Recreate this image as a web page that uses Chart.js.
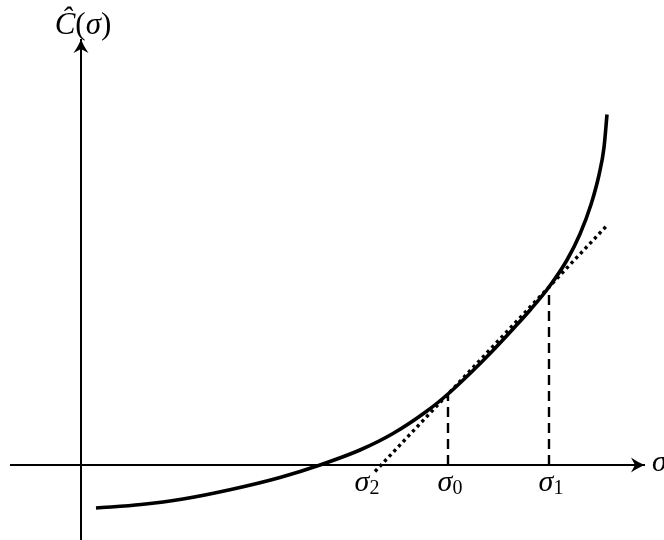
<!DOCTYPE html>
<html>
<head>
<meta charset="utf-8">
<script src="https://cdn.jsdelivr.net/npm/chart.js@4.4.1/dist/chart.umd.min.js"></script>
<style>
  html, body { margin: 0; padding: 0; background: #fff; }
  canvas { display: block; }
</style>
</head>
<body>
<canvas id="myChart" width="664" height="540"></canvas>
<script>
// Cost curve C(sigma), sampled along its length
const curveX = [0.30, 1.20, 2.04, 3.00, 3.98, 4.78, 5.58, 6.24, 6.92, 7.34, 7.78, 8.20, 8.64, 9.00, 9.36, 9.72, 9.98, 10.20, 10.36, 10.46, 10.52];
const curveY = [-0.86, -0.79, -0.68, -0.49, -0.25, 0.00, 0.30, 0.63, 1.08, 1.42, 1.83, 2.25, 2.72, 3.12, 3.56, 4.10, 4.62, 5.21, 5.80, 6.35, 7.01];

// marked points on the sigma axis: sigma_2, sigma_0, sigma_1
const sigmaX = [6.00, 7.34, 9.36];
const sigmaSub = ['2', '0', '1'];
const curveAtSigma = [0, 1.42, 3.56];

// secant through (sigma_0, C0) and (sigma_1, C1), extended both ways
const secantX = [5.88, 10.5];
const secantY = [-0.13, 4.77];

// axis extents
const axisXRange = [-1.42, 11.28];
const axisYRange = [-1.5, 8.52];

const ctx = document.getElementById('myChart').getContext('2d');

function pts(xs, ys) {
    return xs.map((x, i) => ({ x: x, y: ys[i] }));
}

const datasets = [
    {
        label: 'x-axis',
        data: pts(axisXRange, [0, 0]),
        borderColor: '#000',
        borderWidth: 2,
        pointRadius: 0
    },
    {
        label: 'y-axis',
        data: pts([0, 0], axisYRange),
        borderColor: '#000',
        borderWidth: 2,
        pointRadius: 0
    },
    {
        label: 'C',
        data: pts(curveX, curveY),
        borderColor: '#000',
        borderWidth: 3.6,
        pointRadius: 0,
        cubicInterpolationMode: 'monotone',
        borderCapStyle: 'butt'
    },
    {
        label: 'secant',
        data: pts(secantX, secantY),
        borderColor: '#000',
        borderWidth: 3.4,
        borderDash: [3.2, 3.6],
        pointRadius: 0
    }
];

// dashed drops from the curve down to sigma_0 and sigma_1
for (let i = 1; i < sigmaX.length; i++) {
    datasets.push({
        label: 'drop' + i,
        data: pts([sigmaX[i], sigmaX[i]], [0, curveAtSigma[i]]),
        borderColor: '#000',
        borderWidth: 2.4,
        borderDash: [10, 6],
        pointRadius: 0
    });
}

function drawArrow(c, x, y, angle) {
    c.save();
    c.translate(x, y);
    c.rotate(angle);
    c.beginPath();
    c.moveTo(0, 0);
    c.quadraticCurveTo(-6, -2, -14, -7.5);
    c.lineTo(-10, 0);
    c.lineTo(-14, 7.5);
    c.quadraticCurveTo(-6, 2, 0, 0);
    c.closePath();
    c.fillStyle = '#000';
    c.fill();
    c.restore();
}

// text runs: [text, italic, size, dy]
function drawRuns(c, runs, x, y, align) {
    let total = 0;
    runs.forEach(r => {
        c.font = (r[1] ? 'italic ' : '') + r[2] + 'px "Liberation Serif", "DejaVu Serif", serif';
        r.w = c.measureText(r[0]).width;
        total += r.w;
    });
    let cx = align === 'center' ? x - total / 2 : x;
    runs.forEach(r => {
        c.font = (r[1] ? 'italic ' : '') + r[2] + 'px "Liberation Serif", "DejaVu Serif", serif';
        c.fillText(r[0], cx, y + (r[3] || 0));
        cx += r.w;
    });
}

// sigma_2 sits left of where the dotted line meets the axis
const labelShift = [-14, 2, 2];

const annotations = {
    id: 'annotations',
    afterDatasetsDraw(chart) {
        const c = chart.ctx;
        const xs = chart.scales.x;
        const ys = chart.scales.y;
        const y0 = ys.getPixelForValue(0);
        const x0 = xs.getPixelForValue(0);

        drawArrow(c, xs.getPixelForValue(axisXRange[1]), y0, 0);
        drawArrow(c, x0, ys.getPixelForValue(axisYRange[1]), -Math.PI / 2);

        c.save();
        c.fillStyle = '#000';
        c.textBaseline = 'middle';

        sigmaX.forEach((s, i) => {
            drawRuns(c, [['σ', true, 30, 0], [sigmaSub[i], false, 20, 6]],
                xs.getPixelForValue(s) + labelShift[i], y0 + 18, 'center');
        });

        drawRuns(c, [['σ', true, 30, 0]], xs.getPixelForValue(axisXRange[1]) + 7, y0 - 2, 'left');

        drawRuns(c, [['Ĉ', true, 31, 0], ['(', false, 31, 0], ['σ', true, 31, 0], [')', false, 31, 0]],
            x0 + 2, ys.getPixelForValue(axisYRange[1]) - 13, 'center');
        c.restore();
    }
};

new Chart(ctx, {
    type: 'scatter',
    data: { datasets: datasets },
    options: {
        responsive: false,
        animation: false,
        showLine: true,
        layout: { padding: 0 },
        plugins: {
            legend: { display: false },
            tooltip: { enabled: false }
        },
        scales: {
            x: { type: 'linear', display: false, min: -1.62, max: 11.66 },
            y: { type: 'linear', display: false, min: -1.5, max: 9.3 }
        }
    },
    plugins: [annotations]
});
</script>
</body>
</html>
